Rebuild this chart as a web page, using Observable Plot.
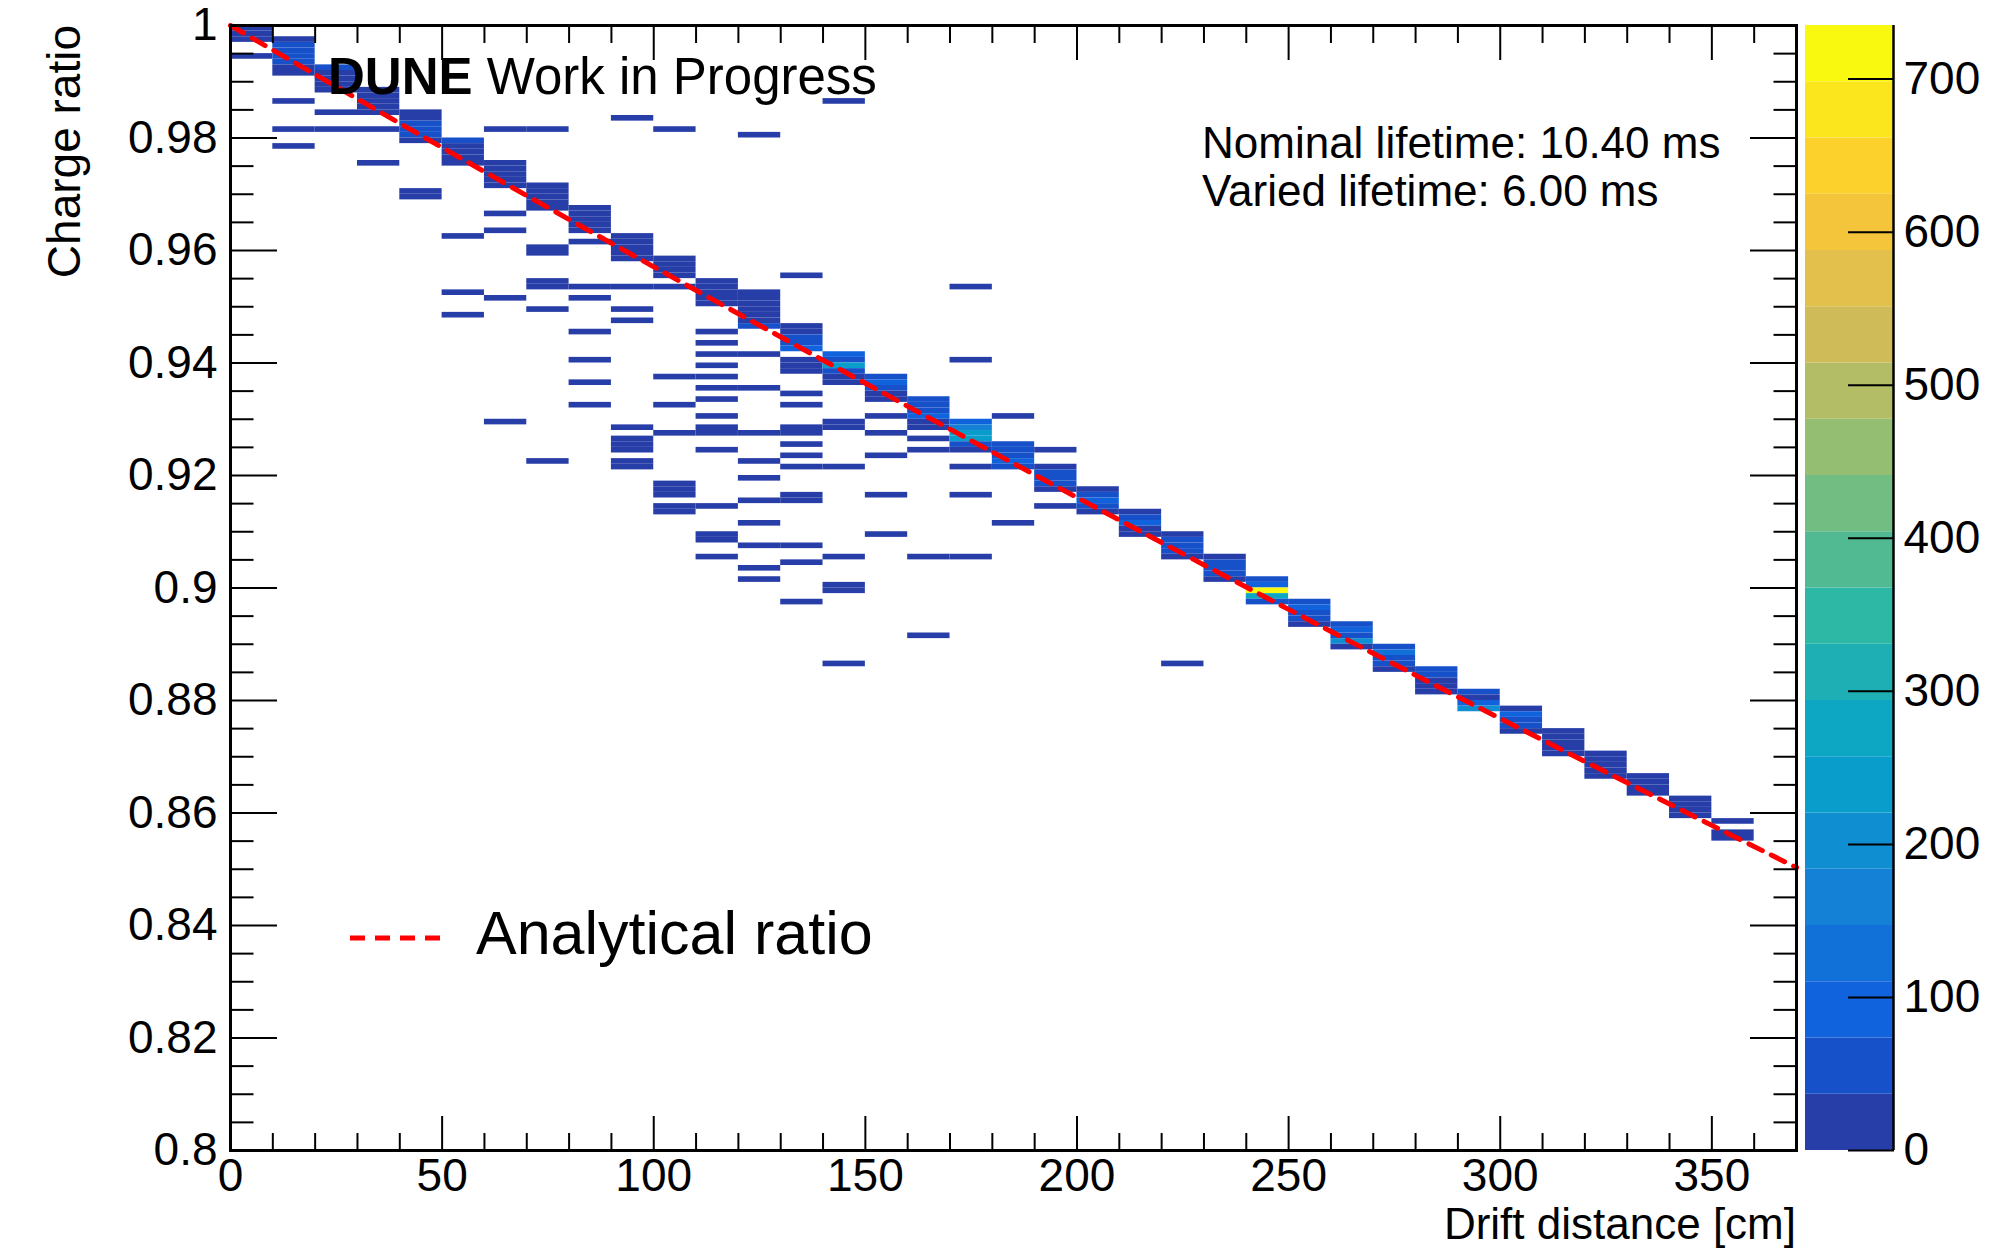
<!DOCTYPE html>
<html>
<head>
<meta charset="utf-8">
<script src="https://cdn.jsdelivr.net/npm/d3@7"></script>
<script src="https://cdn.jsdelivr.net/npm/@observablehq/plot@0.6"></script>
<style>
html, body { margin: 0; padding: 0; background: #ffffff; }
#wrap { position: relative; width: 1994px; height: 1249px; overflow: hidden; background: #ffffff;
        font-family: "Liberation Sans", Arial, Helvetica, sans-serif; }
#wrap > svg { position: absolute; top: 0; }
</style>
</head>
<body>
<div id="wrap"></div>
<script>
// ---------------- DATA ----------------
// x bins: lower edge of each 10 cm drift-distance bin
const driftBins = [0,10,20,30,40,50,60,70,80,90,100,110,120,130,140,150,160,170,
                   180,190,200,210,220,230,240,250,260,270,280,290,300,310,320,330,340,350];
// y bins (width 0.001): lower edge of every filled charge-ratio bin, per drift bin
const ratioBins = [
  [.999,.998,.997,.994],
  [.997,.996,.995,.994,.993,.992,.991,.986,.981,.978],
  [.992,.991,.990,.989,.988,.984,.981],
  [.988,.987,.986,.985,.984,.981,.975],
  [.984,.983,.982,.981,.980,.979,.970,.969],
  [.979,.978,.977,.976,.975,.962,.952,.948],
  [.981,.975,.974,.973,.972,.971,.966,.963,.951,.929],
  [.981,.971,.970,.969,.968,.967,.960,.959,.954,.953,.949,.922],
  [.967,.966,.965,.964,.963,.961,.953,.951,.945,.940,.936,.932],
  [.983,.962,.961,.960,.959,.958,.953,.949,.947,.928,.926,.925,.924,.922,.921],
  [.981,.958,.957,.956,.955,.953,.937,.932,.927,.918,.917,.916,.914,.913],
  [.954,.953,.952,.951,.950,.945,.943,.941,.939,.937,.935,.933,.930,.928,.927,.924,.914,.909,.908,.905],
  [.980,.952,.951,.950,.949,.948,.947,.946,.941,.935,.927,.922,.919,.915,.911,.907,.903,.901],
  [.955,.946,.945,.944,.943,.942,.940,.939,.938,.934,.932,.928,.927,.925,.923,.921,.916,.915,.907,.904,.897],
  [.986,.941,.940,.939,.938,.937,.936,.929,.928,.921,.905,.900,.899,.886],
  [.937,.936,.935,.934,.933,.930,.927,.923,.916,.909],
  [.933,.932,.931,.930,.929,.928,.926,.924,.905,.891],
  [.953,.940,.929,.928,.927,.926,.925,.924,.921,.916,.905],
  [.930,.925,.924,.923,.922,.921,.911],
  [.924,.921,.920,.919,.918,.917,.914],
  [.917,.916,.915,.914,.913],
  [.913,.912,.911,.910,.909],
  [.909,.908,.907,.906,.905,.886],
  [.905,.904,.903,.902,.901],
  [.901,.900,.899,.898,.897],
  [.897,.896,.895,.894,.893],
  [.893,.892,.891,.890,.889],
  [.889,.888,.887,.886,.885],
  [.885,.884,.883,.882,.881],
  [.881,.880,.879,.878],
  [.878,.877,.876,.875,.874],
  [.874,.873,.872,.871,.870],
  [.870,.869,.868,.867,.866],
  [.866,.865,.864,.863],
  [.862,.861,.860,.859],
  [.858,.856,.855]
];
// entries per bin (estimated from the colour of each cell)
const binCounts = [
  [12,12,12,12],
  [12,55,55,55,55,12,12,12,12,12],
  [55,12,12,12,12,12,12],
  [12,12,12,12,12,12,12],
  [12,12,55,55,55,12,12,12],
  [55,12,12,12,12,12,12,12],
  [12,12,12,12,12,12,12,12,12,12],
  [12,12,12,12,12,12,12,12,12,12,12,12],
  [12,12,12,12,12,12,12,12,12,12,12,12],
  [12,12,12,12,12,12,12,12,12,12,12,12,12,12,12],
  [12,12,12,12,12,12,12,12,12,12,12,12,12,12],
  [12,12,12,12,12,12,12,12,12,12,12,12,12,12,12,12,12,12,12,12],
  [12,12,12,12,12,12,12,55,12,12,12,12,12,12,12,12,12,12],
  [12,12,12,55,55,92,12,12,12,12,12,12,12,12,12,12,12,12,12,12,12],
  [12,92,55,238,55,12,12,12,12,12,12,12,12,12],
  [55,92,55,12,12,12,12,12,12,12],
  [55,55,55,92,12,12,12,12,12,12],
  [12,12,92,165,238,238,55,12,12,12,12],
  [12,55,55,55,92,55,12],
  [12,12,55,55,55,12,12],
  [12,55,92,55,12],
  [12,55,92,12,12],
  [12,55,55,55,12,12],
  [12,55,55,55,12],
  [55,92,735,275,55],
  [55,92,55,55,12],
  [55,92,55,202,12],
  [55,128,55,55,12],
  [55,55,12,12,12],
  [55,12,92,202],
  [12,92,55,55,12],
  [12,12,12,12,12],
  [12,12,12,12,12],
  [12,12,12,12],
  [12,12,12,12],
  [12,12,12]
];
// analytical ratio curve
const analyticX = [0, 50, 100, 150, 200, 250, 300, 350, 370];
const analyticY = [1.0, 0.9783, 0.9571, 0.9364, 0.9161, 0.8962, 0.8768, 0.8578, 0.8503];

// axis tick values
const yMajor = [0.8,0.82,0.84,0.86,0.88,0.9,0.92,0.94,0.96,0.98,1.0];
const xMajor = [0,50,100,150,200,250,300,350];
const barTicks = [0,100,200,300,400,500,600,700];
const colorMax = 735;   // top of the palette axis
const nLevels = 20;     // number of colour contours

// ---------------- BUILD ----------------
const binWidthX = 10, binWidthY = 0.001;
const cells = [];
driftBins.forEach((x, i) => {
  ratioBins[i].forEach((y, j) => {
    cells.push({x1: x, x2: x + binWidthX, y1: y, y2: +(y + binWidthY).toFixed(4), count: binCounts[i][j]});
  });
});
const analytic = analyticX.map((x, i) => ({x, y: analyticY[i]}));

const yMinor = d3.range(0, 41).map(i => +(0.8 + i * 0.005).toFixed(4)).filter(v => !yMajor.some(m => Math.abs(m - v) < 1e-9));
const xMinor = d3.range(0, 371, 10).filter(v => v % 50 !== 0);

// ROOT kBird palette, 20 contour levels
const birdStops = ["#352a87","#0f5cdd","#1481d6","#06a4ca","#2eb7a4","#87bf77","#d1bb59","#fec832","#f9fb0e"];
const bird = d3.piecewise(d3.interpolateRgb, birdStops);
const palette = d3.range(nLevels).map(i => bird(Math.floor((i + 0.99) * 255 / nLevels) / 255));
const step = colorMax / nLevels;
const thresholds = d3.range(1, nLevels).map(i => i * step);
const colorScale = {type: "threshold", domain: thresholds, range: palette};

const FONT = "Liberation Sans, Arial, Helvetica, sans-serif";
const blank = () => "";
const fmtY = d => String(+d.toFixed(3));
const DASH = "15,10";

const main = Plot.plot({
  width: 1800, height: 1249,
  marginLeft: 230, marginRight: 4, marginTop: 25, marginBottom: 99,
  style: {fontFamily: FONT, color: "black", background: "transparent", overflow: "visible"},
  x: {domain: [0, 370], axis: null},
  y: {domain: [0.8, 1], axis: null},
  color: colorScale,
  marks: [
    Plot.rect(cells, {x1: "x1", x2: "x2", y1: "y1", y2: "y2", fill: "count"}),
    Plot.line(analytic, {x: "x", y: "y", curve: "natural", stroke: "#ff0000", strokeWidth: 5, strokeDasharray: DASH}),
    // inward ticks on all four sides
    Plot.axisY({ticks: yMajor, anchor: "left", tickSize: -47, tickFormat: blank, strokeWidth: 2, label: null}),
    Plot.axisY({ticks: yMinor, anchor: "left", tickSize: -23.5, tickFormat: blank, strokeWidth: 2, label: null}),
    Plot.axisY({ticks: yMajor, anchor: "right", tickSize: -47, tickFormat: blank, strokeWidth: 2, label: null}),
    Plot.axisY({ticks: yMinor, anchor: "right", tickSize: -23.5, tickFormat: blank, strokeWidth: 2, label: null}),
    Plot.axisX({ticks: xMajor, anchor: "bottom", tickSize: -34, tickFormat: blank, strokeWidth: 2, label: null}),
    Plot.axisX({ticks: xMinor, anchor: "bottom", tickSize: -17, tickFormat: blank, strokeWidth: 2, label: null}),
    Plot.axisX({ticks: xMajor, anchor: "top", tickSize: -34, tickFormat: blank, strokeWidth: 2, label: null}),
    Plot.axisX({ticks: xMinor, anchor: "top", tickSize: -17, tickFormat: blank, strokeWidth: 2, label: null}),
    // tick labels
    Plot.axisY({ticks: yMajor, anchor: "left", tickSize: 0, tickPadding: 13, tickFormat: fmtY, fontSize: 46, label: null}),
    Plot.axisX({ticks: xMajor, anchor: "bottom", tickSize: 0, tickPadding: 8, tickFormat: d => String(d), fontSize: 46, label: null}),
    Plot.frame({stroke: "black", strokeWidth: 3})
  ]
});
main.style.left = "0px";

const bands = d3.range(nLevels).map(i => ({lo: i * step, hi: (i + 1) * step, mid: (i + 0.5) * step}));
const bar = Plot.plot({
  width: 194, height: 1249,
  marginLeft: 5, marginRight: 101, marginTop: 25, marginBottom: 99,
  style: {fontFamily: FONT, color: "black", background: "transparent", overflow: "visible"},
  x: {domain: [0, 1], axis: null},
  y: {domain: [0, colorMax], axis: null},
  color: colorScale,
  marks: [
    Plot.rect(bands, {x1: 0, x2: 1, y1: "lo", y2: "hi", fill: "mid"}),
    Plot.ruleX([1], {stroke: "black", strokeWidth: 2.5}),
    Plot.axisY({ticks: barTicks, anchor: "right", tickSize: -46, tickFormat: blank, strokeWidth: 2, label: null}),
    Plot.axisY({ticks: barTicks, anchor: "right", tickSize: 0, tickPadding: 10, tickFormat: d => String(d), fontSize: 46, label: null})
  ]
});
bar.style.left = "1800px";

const wrap = document.getElementById("wrap");
wrap.appendChild(main);
wrap.appendChild(bar);

// annotation overlay (titles, labels, legend)
const ns = "http://www.w3.org/2000/svg";
const over = document.createElementNS(ns, "svg");
over.setAttribute("width", 1994);
over.setAttribute("height", 1249);
over.style.left = "0px";
over.style.pointerEvents = "none";
over.setAttribute("font-family", FONT);
over.innerHTML = `
  <text x="328" y="94" font-size="51" fill="black"><tspan font-weight="bold">DUNE</tspan> Work in Progress</text>
  <text x="1202" y="158" font-size="44" fill="black">Nominal lifetime: 10.40 ms</text>
  <text x="1202" y="206" font-size="44" fill="black">Varied lifetime: 6.00 ms</text>
  <line x1="350" x2="445" y1="938" y2="938" stroke="#ff0000" stroke-width="5" stroke-dasharray="${DASH}"></line>
  <text x="476" y="954" font-size="61" fill="black">Analytical ratio</text>
  <text transform="translate(80,25) rotate(-90)" text-anchor="end" font-size="46" fill="black">Charge ratio</text>
  <text x="1796" y="1239" text-anchor="end" font-size="44" fill="black">Drift distance [cm]</text>
`;
wrap.appendChild(over);
</script>
</body>
</html>
